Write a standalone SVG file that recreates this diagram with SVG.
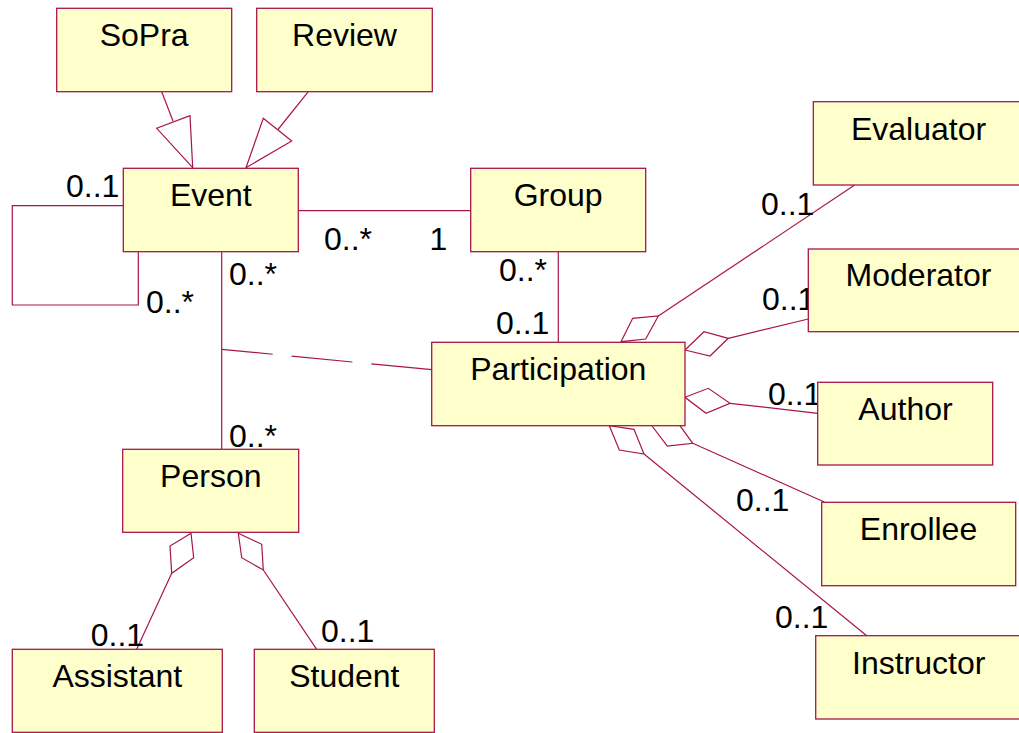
<svg xmlns="http://www.w3.org/2000/svg" width="1019" height="733" viewBox="0 0 1019 733">
<style>
.box{fill:#ffffcc;stroke:#a8154a;stroke-width:1.3}
.t{font-family:"Liberation Sans",Arial,sans-serif;font-size:32px;fill:#000;text-anchor:middle}
.m{font-family:"Liberation Sans",Arial,sans-serif;font-size:32px;fill:#000}
.ln{fill:none;stroke:#a8154a;stroke-width:1.2}
.hd{fill:#fff;stroke:#a8154a;stroke-width:1.2}
</style>
<rect width="1019" height="733" fill="#fff"/>
<g id="connectors">
<!-- inheritance -->
<line class="ln" x1="161.7" y1="91.7" x2="173" y2="121"/>
<polygon class="hd" points="192.7,167.7 156.7,128.3 190,115.7"/>
<line class="ln" x1="308.3" y1="91.7" x2="278" y2="129.5"/>
<polygon class="hd" points="246,167.7 263.3,118.3 291.7,141"/>
<!-- self loop -->
<polyline class="ln" points="123.3,205.7 12.3,205.7 12.3,305 138.3,305 138.3,251.7"/>
<!-- Event-Group -->
<line class="ln" x1="298.3" y1="210.7" x2="470.7" y2="210.7"/>
<!-- Event-Person -->
<line class="ln" x1="221.7" y1="251.7" x2="221.7" y2="449.3"/>
<!-- association class dashed -->
<line class="ln" x1="432" y1="369.7" x2="221.7" y2="349.3" stroke-dasharray="61 19"/>
<!-- Group-Participation -->
<line class="ln" x1="558.3" y1="251.7" x2="558.3" y2="342.3"/>
<!-- Person aggregations -->
<polygon class="hd" points="191,533.3 170,546 171.7,573.3 193.7,557.7"/>
<line class="ln" x1="171.7" y1="573.3" x2="136.7" y2="649.3"/>
<polygon class="hd" points="238.3,533.3 261.7,544.3 263.3,570 241.7,557.7"/>
<line class="ln" x1="263.3" y1="570" x2="316.7" y2="649.3"/>
<!-- Participation aggregations -->
<polygon class="hd" points="621,341.7 632.7,318.3 658.3,316 645.7,339"/>
<line class="ln" x1="658.3" y1="316" x2="854.3" y2="185.3"/>
<polygon class="hd" points="685,350 704,331.7 728.3,338.3 710,356"/>
<line class="ln" x1="728.3" y1="338.3" x2="808.3" y2="319"/>
<polygon class="hd" points="685,397.3 708.3,388.3 730,403.3 706,413.3"/>
<line class="ln" x1="730" y1="403.3" x2="817.7" y2="413.3"/>
<polygon class="hd" points="651.7,425.5 667.3,446 692.7,443.3 678.3,423.3"/>
<line class="ln" x1="692.7" y1="443.3" x2="824.3" y2="502"/>
<polygon class="hd" points="609.3,425.7 619.3,450 644,454 634,429.3"/>
<line class="ln" x1="644" y1="454" x2="866.7" y2="635.7"/>
</g>
<g id="labels">
<text class="m" x="66" y="196.7">0..1</text>
<text class="m" x="146" y="313">0..*</text>
<text class="m" x="324" y="250">0..*</text>
<text class="m" x="429.5" y="250">1</text>
<text class="m" x="229" y="285">0..*</text>
<text class="m" x="229" y="447.3">0..*</text>
<text class="m" x="499" y="280.7">0..*</text>
<text class="m" x="496" y="334">0..1</text>
<text class="m" x="90.7" y="646">0..1</text>
<text class="m" x="321" y="641.7">0..1</text>
<text class="m" x="761" y="215">0..1</text>
<text class="m" x="762" y="310">0..1</text>
<text class="m" x="768" y="404.5">0..1</text>
<text class="m" x="736" y="510.7">0..1</text>
<text class="m" x="775" y="628.3">0..1</text>
</g>
<g id="SoPra"><rect class="box" x="56.7" y="8.3" width="175" height="83.4"/><text class="t" x="144.2" y="45.5">SoPra</text></g>
<g id="Review"><rect class="box" x="256.7" y="8.3" width="175.6" height="83.4"/><text class="t" x="344.5" y="45.5">Review</text></g>
<g id="Event"><rect class="box" x="123.3" y="168.3" width="175" height="83.4"/><text class="t" x="210.8" y="206">Event</text></g>
<g id="Group"><rect class="box" x="470.7" y="168.3" width="175" height="83.4"/><text class="t" x="558.2" y="206">Group</text></g>
<g id="Participation"><rect class="box" x="431.7" y="342.3" width="253.3" height="83.4"/><text class="t" x="558.3" y="380">Participation</text></g>
<g id="Person"><rect class="box" x="122.7" y="449.3" width="176" height="83"/><text class="t" x="210.8" y="487">Person</text></g>
<g id="Assistant"><rect class="box" x="12.3" y="649.3" width="210" height="83"/><text class="t" x="117.3" y="686.7">Assistant</text></g>
<g id="Student"><rect class="box" x="254.3" y="649.3" width="180" height="83"/><text class="t" x="344.3" y="686.7">Student</text></g>
<g id="Evaluator"><rect class="box" x="813.3" y="101.7" width="211" height="83.3"/><text class="t" x="918.5" y="140">Evaluator</text></g>
<g id="Moderator"><rect class="box" x="808.3" y="249" width="220" height="82.7"/><text class="t" x="918.5" y="286">Moderator</text></g>
<g id="Author"><rect class="box" x="817.7" y="382.3" width="175" height="82.7"/><text class="t" x="905.5" y="420">Author</text></g>
<g id="Enrollee"><rect class="box" x="821.7" y="502.3" width="194" height="83.4"/><text class="t" x="918.5" y="540">Enrollee</text></g>
<g id="Instructor"><rect class="box" x="815.7" y="635.7" width="206" height="83.3"/><text class="t" x="918.7" y="674">Instructor</text></g>
</svg>
